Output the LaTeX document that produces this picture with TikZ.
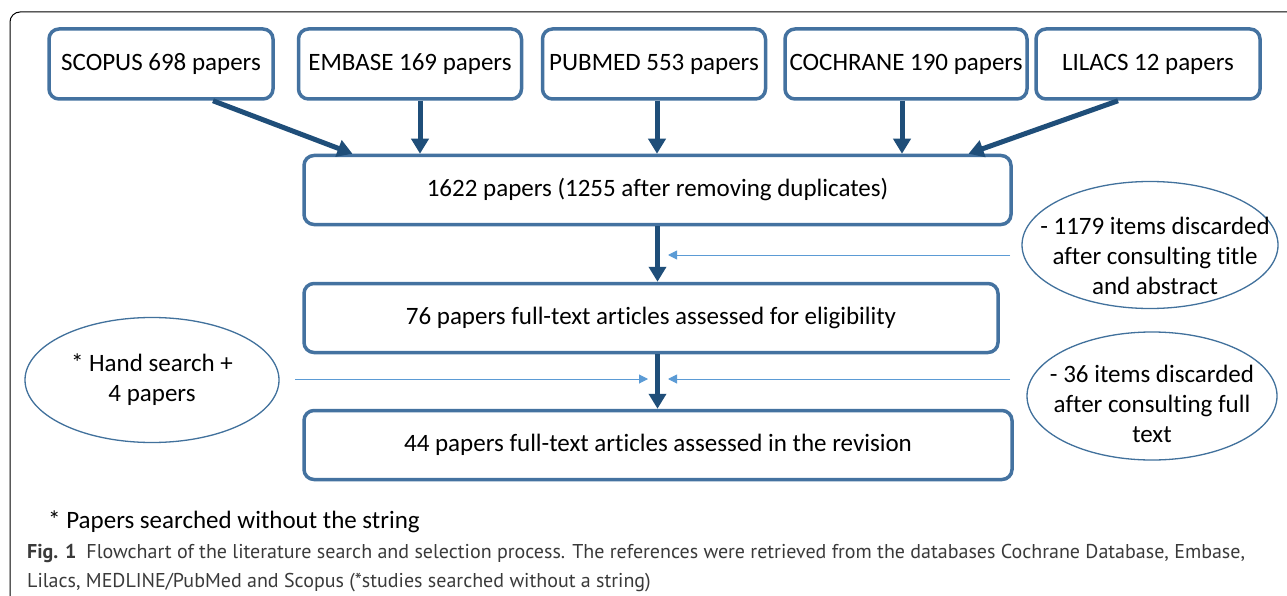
\documentclass[tikz,border=0pt]{standalone}
\usepackage{fontspec}
\setmainfont{Carlito}[Ligatures={NoCommon}]
\newfontfamily\capfont{PT Sans}
\usetikzlibrary{shapes.geometric,arrows.meta}
\definecolor{boxc}{HTML}{4472A0}
\definecolor{arrc}{HTML}{1F4E79}
\definecolor{thinc}{HTML}{5B9BD5}
\definecolor{ellc}{HTML}{41719C}
\definecolor{capc}{HTML}{3A3A3A}
\tikzset{
  srcbox/.style={draw=boxc, line width=3.5pt, rounded corners=10pt, fill=white,
    minimum height=70pt, inner sep=0pt, font=\fontsize{25}{30}\selectfont},
  flowbox/.style={srcbox, minimum height=69pt},
  thickarr/.style={draw=arrc, line width=5pt, -{Triangle[length=15pt,width=17pt]}},
  thinarr/.style={draw=thinc, line width=1pt, -{Triangle[length=9pt,width=9pt]}},
  ellnode/.style={ellipse, draw=ellc, line width=1.3pt, inner sep=0pt},
  elltext/.style={align=center, inner sep=0pt, font=\fontsize{25}{30}\selectfont},
  captext/.style={anchor=base west, inner sep=0pt, text=capc, font=\capfont\fontsize{20}{24}\selectfont}
}
\begin{document}
\begin{tikzpicture}[x=1pt,y=-1pt]
\useasboundingbox (0,0) rectangle (1287,596);
\fill[white] (0,0) rectangle (1287,596);
\draw[line width=1pt, rounded corners=10pt] (10,620) -- (10,12) -- (1300,12);
% source boxes
\node[srcbox, minimum width=224pt] (scopus) at (161,64) {SCOPUS 698 papers};
\node[srcbox, minimum width=223pt] (embase) at (410,64) {EMBASE 169 papers};
\node[srcbox, minimum width=223pt] (pubmed) at (654,64) {PUBMED 553 papers};
\node[srcbox, minimum width=242pt] (cochrane) at (906,64) {COCHRANE 190 papers};
\node[srcbox, minimum width=224pt] (lilacs) at (1148,64) {LILACS 12 papers};
% flow boxes
\node[flowbox, minimum width=707pt] (all) at (657.5,190) {1622 papers (1255 after removing duplicates)};
\node[flowbox, minimum width=694pt] (elig) at (651,318) {76 papers full-text articles assessed for eligibility};
\node[flowbox, minimum width=708pt] (final) at (658,445) {44 papers full-text articles assessed in the revision};
% ellipses
\node[ellnode, minimum width=256pt, minimum height=127pt] (ex1) at (1150,245) {};
\node[elltext] (ex1t) at ([xshift=5pt,yshift=-11pt]ex1.center)
  {- 1179 items discarded\\after consulting title\\and abstract};
\node[ellnode, minimum width=250pt, minimum height=128pt] (ex2) at (1152,396) {};
\node[elltext] (ex2t) at ([yshift=-8pt]ex2.center)
  {- 36 items discarded\\after consulting full\\text};
\node[ellnode, minimum width=254pt, minimum height=125pt] (hand) at (152,380) {};
\node[elltext] (handt) at (hand.center) {* Hand search +\\4 papers};
% thick arrows
\draw[thickarr] ([xshift=52pt]scopus.south) -- ([xshift=-305pt]all.north);
\draw[thickarr] ([xshift=10pt]embase.south) -- ([xshift=10pt]embase.south |- all.north);
\draw[thickarr] ([xshift=3pt]pubmed.south) -- ([xshift=3pt]pubmed.south |- all.north);
\draw[thickarr] ([xshift=-4pt]cochrane.south) -- ([xshift=-4pt]cochrane.south |- all.north);
\draw[thickarr] ([xshift=-30pt]lilacs.south) -- ([xshift=311pt]all.north);
\draw[thickarr] (all.south) -- (all.south |- elig.north);
\draw[thickarr] (all.south |- elig.south) -- (all.south |- final.north);
% thin arrows
\coordinate (t1s) at (1010,255);
\coordinate (t1e) at (668,255);
\coordinate (t2s) at (1010,379);
\coordinate (t2e) at (668,379);
\coordinate (t3s) at (295,379);
\coordinate (t3e) at (648,379);
\draw[thinarr] (t1s) -- (t1e);
\draw[thinarr] (t2s) -- (t2e);
\draw[thinarr] (t3s) -- (t3e);
% footnote and caption
\node[anchor=base west, inner sep=0pt, font=\fontsize{25}{30}\selectfont] (foot) at (48,528) {* Papers searched without the string};
\node[captext] (cap1) at (27,558) {{\bfseries Fig. 1}\hspace{10pt}Flowchart of the literature search and selection process. The references were retrieved from the databases Cochrane Database, Embase,};
\node[captext] (cap2) at (27,587) {Lilacs, MEDLINE/PubMed and Scopus (*studies searched without a string)};
\end{tikzpicture}
\end{document}
